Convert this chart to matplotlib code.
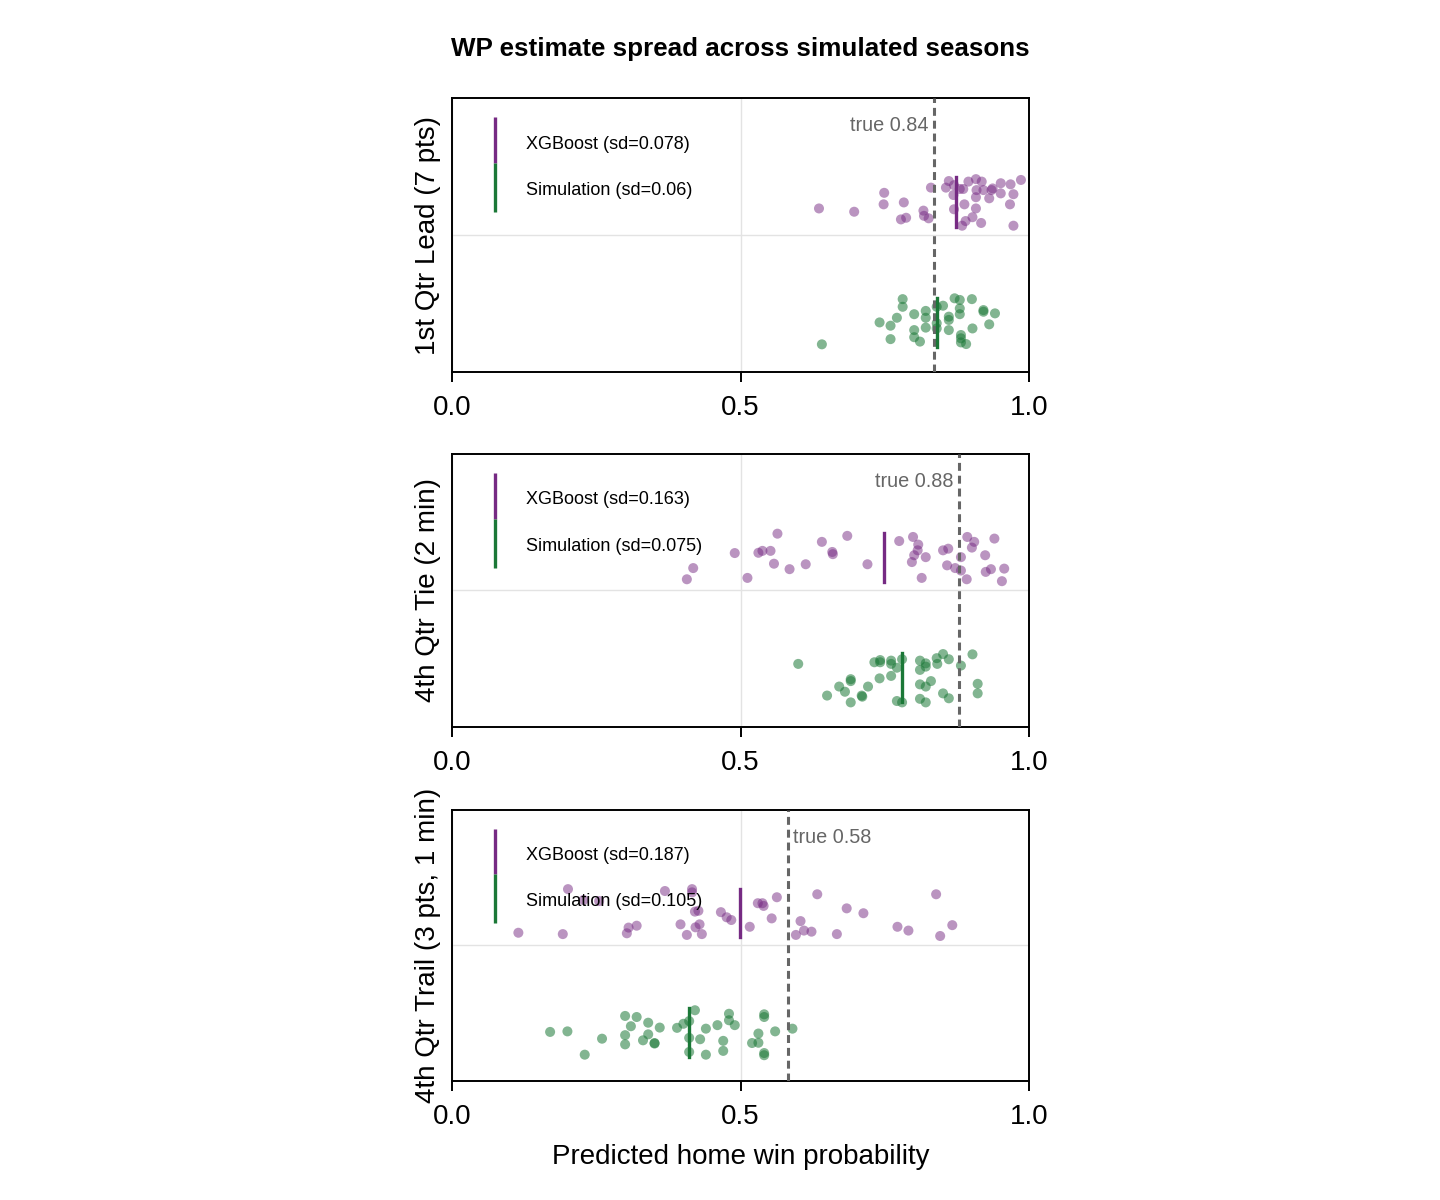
import matplotlib.pyplot as plt

plt.rcParams['font.family'] = ['Liberation Sans', 'DejaVu Sans']

# ---- data ----
x_ticks = [0.0, 0.5, 1.0]
tick_labels = ['0.0', '0.5', '1.0']

scenarios = ['1st Qtr Lead (7 pts)', '4th Qtr Tie (2 min)', '4th Qtr Trail (3 pts, 1 min)']
true_wp = [0.836, 0.879, 0.582]
true_labels = ['true 0.84', 'true 0.88', 'true 0.58']
xgb_mean = [0.873, 0.749, 0.499]
sim_mean = [0.840, 0.780, 0.410]
xgb_labels = ['XGBoost (sd=0.078)', 'XGBoost (sd=0.163)', 'XGBoost (sd=0.187)']
sim_labels = ['Simulation (sd=0.06)', 'Simulation (sd=0.075)', 'Simulation (sd=0.105)']

# 1st Qtr Lead
xgb_x_1 = [0.636, 0.697, 0.749, 0.748, 0.783, 0.778, 0.787, 0.817, 0.818, 0.826,
           0.830, 0.856, 0.861, 0.870, 0.869, 0.870, 0.880, 0.886, 0.888, 0.884,
           0.890, 0.895, 0.908, 0.909, 0.908, 0.908, 0.902, 0.917, 0.918, 0.921,
           0.931, 0.935, 0.937, 0.951, 0.951, 0.968, 0.973, 0.967, 0.973, 0.986]
xgb_y_1 = [0.597, 0.585, 0.654, 0.612, 0.619, 0.557, 0.563, 0.589, 0.570, 0.561,
           0.673, 0.673, 0.697, 0.682, 0.646, 0.594, 0.668, 0.668, 0.612, 0.534,
           0.551, 0.695, 0.704, 0.664, 0.638, 0.597, 0.565, 0.544, 0.695, 0.664,
           0.634, 0.664, 0.670, 0.689, 0.652, 0.685, 0.649, 0.612, 0.534, 0.701]
sim_x_1 = [0.641, 0.741, 0.760, 0.771, 0.760, 0.781, 0.781, 0.801, 0.801, 0.801,
           0.811, 0.821, 0.821, 0.821, 0.840, 0.840, 0.840, 0.851, 0.861, 0.861,
           0.861, 0.871, 0.880, 0.880, 0.880, 0.882, 0.882, 0.882, 0.891, 0.901,
           0.902, 0.921, 0.921, 0.931, 0.941]
sim_y_1 = [0.101, 0.181, 0.169, 0.198, 0.120, 0.266, 0.238, 0.211, 0.153, 0.127,
           0.111, 0.223, 0.198, 0.162, 0.238, 0.178, 0.159, 0.242, 0.202, 0.190,
           0.153, 0.269, 0.263, 0.232, 0.211, 0.135, 0.123, 0.108, 0.102, 0.266,
           0.159, 0.226, 0.220, 0.174, 0.214]

# 4th Qtr Tie
xgb_x_2 = [0.407, 0.418, 0.490, 0.512, 0.531, 0.538, 0.552, 0.558, 0.564, 0.585,
           0.613, 0.641, 0.659, 0.660, 0.685, 0.720, 0.775, 0.799, 0.808, 0.807,
           0.801, 0.797, 0.821, 0.814, 0.851, 0.860, 0.858, 0.872, 0.882, 0.882,
           0.892, 0.893, 0.905, 0.901, 0.924, 0.940, 0.925, 0.934, 0.957, 0.953]
xgb_y_2 = [0.541, 0.582, 0.637, 0.546, 0.638, 0.645, 0.645, 0.598, 0.708, 0.578,
           0.596, 0.678, 0.641, 0.633, 0.700, 0.596, 0.681, 0.696, 0.668, 0.647,
           0.629, 0.604, 0.622, 0.546, 0.647, 0.653, 0.592, 0.582, 0.622, 0.573,
           0.541, 0.696, 0.678, 0.657, 0.629, 0.690, 0.568, 0.578, 0.580, 0.534]
sim_x_2 = [0.600, 0.650, 0.671, 0.681, 0.691, 0.691, 0.691, 0.710, 0.711, 0.721,
           0.732, 0.742, 0.742, 0.741, 0.761, 0.761, 0.761, 0.771, 0.771, 0.780,
           0.780, 0.811, 0.811, 0.821, 0.821, 0.811, 0.821, 0.830, 0.811, 0.821,
           0.840, 0.841, 0.851, 0.861, 0.851, 0.861, 0.882, 0.902, 0.911, 0.911]
sim_y_2 = [0.231, 0.115, 0.148, 0.129, 0.175, 0.168, 0.090, 0.115, 0.111, 0.148,
           0.237, 0.245, 0.237, 0.178, 0.243, 0.231, 0.187, 0.217, 0.095, 0.248,
           0.090, 0.243, 0.209, 0.233, 0.221, 0.156, 0.148, 0.168, 0.103, 0.090,
           0.252, 0.231, 0.267, 0.248, 0.123, 0.105, 0.225, 0.266, 0.158, 0.123]

# 4th Qtr Trail
xgb_x_3 = [0.115, 0.192, 0.201, 0.228, 0.255, 0.303, 0.306, 0.320, 0.369, 0.396,
           0.407, 0.416, 0.416, 0.421, 0.427, 0.422, 0.429, 0.433, 0.466, 0.476,
           0.484, 0.516, 0.530, 0.538, 0.540, 0.554, 0.563, 0.596, 0.604, 0.610,
           0.623, 0.633, 0.667, 0.684, 0.713, 0.772, 0.791, 0.839, 0.846, 0.867]
xgb_y_3 = [0.547, 0.542, 0.708, 0.668, 0.664, 0.545, 0.566, 0.573, 0.701, 0.578,
           0.539, 0.708, 0.696, 0.625, 0.628, 0.567, 0.578, 0.542, 0.623, 0.604,
           0.594, 0.569, 0.656, 0.656, 0.646, 0.600, 0.678, 0.539, 0.590, 0.555,
           0.551, 0.689, 0.542, 0.637, 0.619, 0.569, 0.555, 0.689, 0.535, 0.575]
sim_x_3 = [0.170, 0.200, 0.230, 0.260, 0.300, 0.300, 0.300, 0.310, 0.320, 0.331,
           0.340, 0.340, 0.351, 0.351, 0.360, 0.390, 0.401, 0.411, 0.421, 0.411,
           0.411, 0.430, 0.440, 0.440, 0.460, 0.470, 0.470, 0.480, 0.480, 0.490,
           0.520, 0.531, 0.531, 0.541, 0.541, 0.541, 0.541, 0.560, 0.590]
sim_y_3 = [0.181, 0.183, 0.097, 0.156, 0.240, 0.169, 0.135, 0.202, 0.236, 0.150,
           0.215, 0.172, 0.140, 0.138, 0.197, 0.196, 0.211, 0.221, 0.261, 0.159,
           0.107, 0.154, 0.193, 0.097, 0.206, 0.148, 0.111, 0.248, 0.224, 0.206,
           0.140, 0.175, 0.141, 0.246, 0.236, 0.103, 0.095, 0.183, 0.193]

xgb_x = [xgb_x_1, xgb_x_2, xgb_x_3]
xgb_y = [xgb_y_1, xgb_y_2, xgb_y_3]
sim_x = [sim_x_1, sim_x_2, sim_x_3]
sim_y = [sim_y_1, sim_y_2, sim_y_3]

# ---- style ----
purple = '#762a83'
green = '#1b7837'
grey = '#666666'
xgb_row, sim_row, half = 0.62, 0.18, 0.09

fig = plt.figure(figsize=(14.4, 12), dpi=100)
boxes = [[0.3139, 0.690, 0.4007, 0.2283],
         [0.3139, 0.3942, 0.4007, 0.2275],
         [0.3139, 0.0992, 0.4007, 0.2258]]

for i, box in enumerate(boxes):
    ax = fig.add_axes(box)
    ax.scatter(xgb_x[i], xgb_y[i], s=52, color=purple, alpha=0.5,
               edgecolors='none', zorder=2)
    ax.scatter(sim_x[i], sim_y[i], s=52, color=green, alpha=0.55,
               edgecolors='none', zorder=2)

    ax.axvline(true_wp[i], color=grey, lw=2.2, ls=(0, (2.6, 1.6)), zorder=3)
    # label sits on the left of the line when the line is far to the right
    if true_wp[i] > 0.7:
        ax.annotate(true_labels[i], xy=(true_wp[i], 0.898), xytext=(-4, 0),
                    textcoords='offset points', ha='right', va='center',
                    color=grey, fontsize=14.3)
    else:
        ax.annotate(true_labels[i], xy=(true_wp[i], 0.898), xytext=(4, 0),
                    textcoords='offset points', ha='left', va='center',
                    color=grey, fontsize=14.3)

    ax.plot([xgb_mean[i]] * 2, [xgb_row - half, xgb_row + half],
            color=purple, lw=2.4, zorder=4)
    ax.plot([sim_mean[i]] * 2, [sim_row - half, sim_row + half],
            color=green, lw=2.4, zorder=4)

    # legend: stacked vertical keys, no frame
    ax.plot([0.0745, 0.0745], [0.931, 0.763], transform=ax.transAxes,
            color=purple, lw=2.4, solid_capstyle='butt', zorder=5)
    ax.plot([0.0745, 0.0745], [0.763, 0.584], transform=ax.transAxes,
            color=green, lw=2.4, solid_capstyle='butt', zorder=5)
    ax.text(0.128, 0.832, xgb_labels[i], transform=ax.transAxes,
            ha='left', va='center', fontsize=13, zorder=5)
    ax.text(0.128, 0.661, sim_labels[i], transform=ax.transAxes,
            ha='left', va='center', fontsize=13, zorder=5)

    ax.set_xlim(0, 1)
    ax.set_ylim(0, 1)
    ax.set_xticks(x_ticks)
    ax.set_xticklabels(tick_labels)
    ax.set_yticks([0.5])
    ax.tick_params(axis='x', direction='out', length=7.5, width=1.4,
                   labelsize=20, pad=9)
    ax.tick_params(axis='y', length=0, labelleft=False)
    ax.grid(True, color='#e3e3e3', lw=1.0, zorder=0)
    ax.set_axisbelow(True)
    for sp in ax.spines.values():
        sp.set_linewidth(1.4)
    ax.set_ylabel(scenarios[i], fontsize=20, labelpad=8)

    if i == 0:
        ax.set_title('WP estimate spread across simulated seasons',
                     fontsize=18.7, fontweight='bold', pad=30)
    if i == 2:
        ax.set_xlabel('Predicted home win probability', fontsize=20, labelpad=10)

fig.savefig('out.png', dpi=100)
